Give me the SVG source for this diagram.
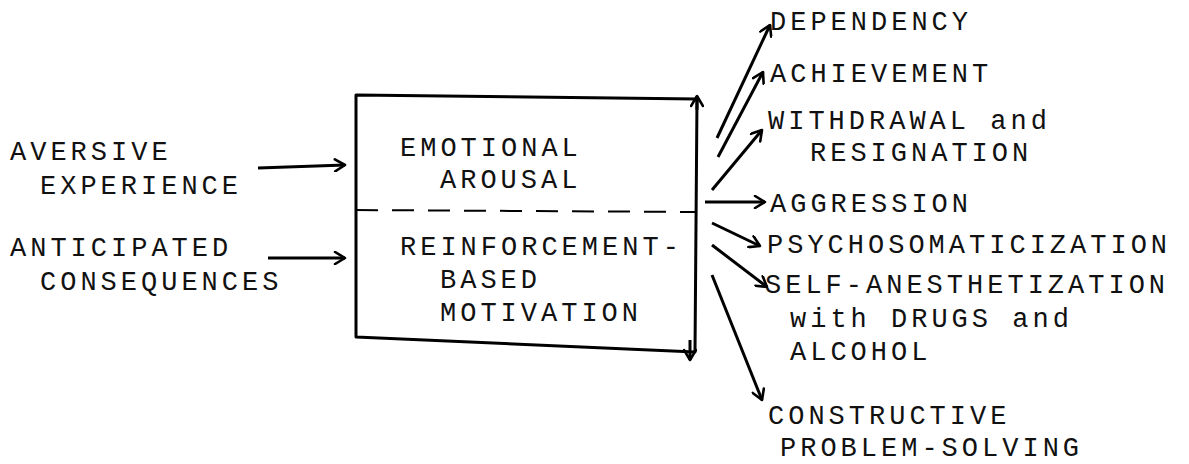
<svg xmlns="http://www.w3.org/2000/svg" width="1189" height="464" viewBox="0 0 1189 464">
<defs>
<marker id="ah" markerWidth="14" markerHeight="14" refX="12" refY="7" orient="auto" markerUnits="userSpaceOnUse">
<path d="M2,1 L12,7 L2,13" fill="none" stroke="#000" stroke-width="2.6" stroke-linecap="round" stroke-linejoin="round"/>
</marker>
</defs>
<style>
text{font-family:"Liberation Mono","DejaVu Sans Mono",monospace;font-size:27px;letter-spacing:4px;fill:#111}
.ln{fill:none;stroke:#000;stroke-width:3;stroke-linecap:round}
.arr{fill:none;stroke:#000;stroke-width:3;marker-end:url(#ah)}
</style>
<rect width="1189" height="464" fill="#fff"/>
<g id="aversive">
<text x="10" y="160">AVERSIVE</text>
<text x="40" y="194">EXPERIENCE</text>
</g>
<g id="anticipated">
<text x="10" y="256">ANTICIPATED</text>
<text x="40" y="290">CONSEQUENCES</text>
</g>
<g id="box">
<path class="ln" d="M356,95 L697,99 L695,352 L356,337 Z" stroke-linejoin="round"/>
<line x1="356" y1="210" x2="695" y2="212" stroke="#000" stroke-width="2" stroke-dasharray="22,14"/>
<text x="400" y="156">EMOTIONAL</text>
<text x="440" y="188">AROUSAL</text>
<text x="400" y="255">REINFORCEMENT-</text>
<text x="440" y="288">BASED</text>
<text x="440" y="321">MOTIVATION</text>
</g>
<g id="outputs">
<text x="770" y="30">DEPENDENCY</text>
<text x="770" y="82">ACHIEVEMENT</text>
<text x="768" y="129">WITHDRAWAL and</text>
<text x="810" y="161">RESIGNATION</text>
<text x="770" y="212">AGGRESSION</text>
<text x="767" y="253">PSYCHOSOMATICIZATION</text>
<text x="765" y="293">SELF-ANESTHETIZATION</text>
<text x="790" y="327">with DRUGS and</text>
<text x="790" y="360">ALCOHOL</text>
<text x="768" y="424">CONSTRUCTIVE</text>
<text x="780" y="456">PROBLEM-SOLVING</text>
</g>
<g id="connectors">
<line class="arr" x1="258" y1="168" x2="345" y2="165"/>
<line class="arr" x1="268" y1="258" x2="345" y2="258"/>
<line class="arr" x1="697" y1="110" x2="697" y2="96"/>
<line class="arr" x1="690" y1="340" x2="690" y2="360"/>
<line class="arr" x1="717" y1="138" x2="770" y2="25"/>
<line class="arr" x1="718" y1="157" x2="763" y2="72"/>
<line class="arr" x1="712" y1="190" x2="762" y2="130"/>
<line class="arr" x1="705" y1="202" x2="765" y2="202"/>
<line class="arr" x1="712" y1="223" x2="760" y2="246"/>
<line class="arr" x1="712" y1="245" x2="767" y2="287"/>
<line class="arr" x1="712" y1="275" x2="762" y2="400"/>
</g>
</svg>
